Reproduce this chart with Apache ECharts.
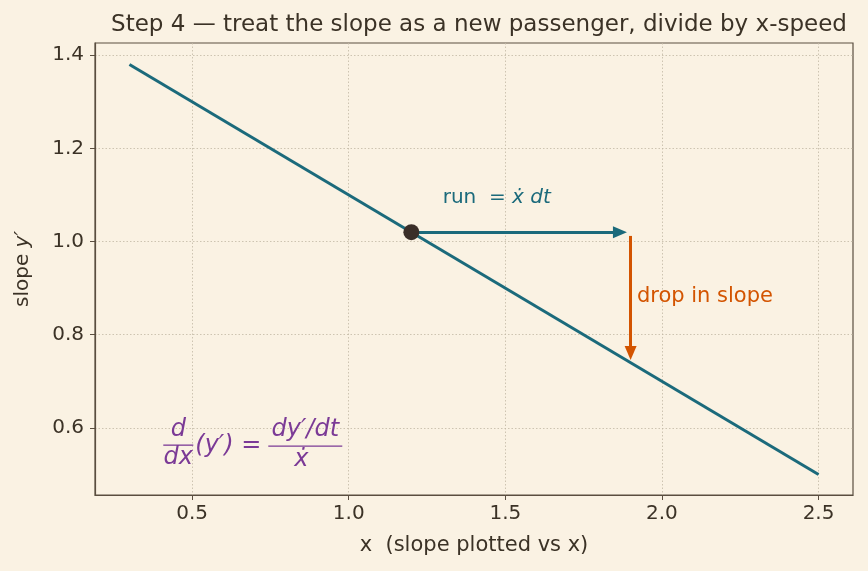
<!DOCTYPE html>
<html>
<head>
<meta charset="utf-8">
<script src="https://cdn.jsdelivr.net/npm/echarts@6/dist/echarts.min.js"></script>
<style>
  html, body { margin: 0; padding: 0; background: #faf2e3; }
  #chart { width: 868px; height: 571px; }
</style>
</head>
<body>
<div id="chart"></div>
<script>
// straight line of the slope y' against x
const lineX = [0.3, 2.5]
const lineY = [1.38, 0.5]
const pointXY = [1.2, 1.02]
const runArrow = [[1.2, 1.02], [1.866, 1.02]]
const dropArrow = [[1.9, 1.012], [1.9, 0.761]]
const xTicks = [0.5, 1.0, 1.5, 2.0, 2.5]
const yTicks = [0.6, 0.8, 1.0, 1.2, 1.4]
const runLabelAt = [1.3, 1.094]
const dropLabelAt = [1.92, 0.882]
const formulaAt = [0.408, 0.563]

const ink = '#3b3226'
const teal = '#1b6a7b'
const orange = '#d35400'
const purple = '#7b3a96'
const font = 'DejaVu Sans'

const chart = echarts.init(document.getElementById('chart'))

const axisCommon = {
  axisLine: { show: true, lineStyle: { color: '#5a4e40', width: 1.2 } },
  axisTick: { show: true, length: 5, lineStyle: { color: '#5a4e40' } },
  splitLine: { show: true, lineStyle: { color: '#c2b8a5', type: [1.5, 2], width: 0.8 } },
}

const noBorder = { textBorderWidth: 0, textShadowBlur: 0, opacity: 1 }

chart.setOption({
  backgroundColor: '#faf2e3',
  animation: false,
  title: {
    text: 'Step 4 \u2014 treat the slope as a new passenger, divide by x-speed',
    left: 474,
    textAlign: 'center',
    top: 9,
    textStyle: { color: ink, fontFamily: font, fontWeight: 'normal', fontSize: 23 },
  },
  grid: {
    left: 95, right: 15, top: 43, bottom: 76,
    show: true, borderColor: '#5a4e40', borderWidth: 1.2, backgroundColor: 'transparent',
  },
  xAxis: {
    type: 'value',
    min: 0.19,
    max: 2.61,
    name: 'x  (slope plotted vs x)',
    nameLocation: 'middle',
    nameGap: 40,
    nameTextStyle: { color: ink, fontFamily: font, fontSize: 21 },
    ...axisCommon,
    axisTick: { ...axisCommon.axisTick, customValues: xTicks },
    axisLabel: {
      customValues: xTicks, color: ink, fontFamily: font, fontSize: 20, margin: 9,
      formatter: (v) => v.toFixed(1),
    },
  },
  yAxis: {
    type: 'value',
    min: 0.456,
    max: 1.426,
    name: '{n|slope }{i|y\u2032}',
    nameLocation: 'middle',
    nameGap: 62,
    nameTextStyle: {
      color: ink, fontFamily: font, fontSize: 20,
      rich: {
        n: { color: ink, fontFamily: font, fontSize: 20 },
        i: { color: ink, fontFamily: font, fontSize: 20, fontStyle: 'italic' },
      },
    },
    ...axisCommon,
    axisTick: { ...axisCommon.axisTick, customValues: yTicks },
    axisLabel: {
      customValues: yTicks, color: ink, fontFamily: font, fontSize: 20, margin: 11,
      formatter: (v) => v.toFixed(1),
    },
  },
  series: [
    {
      type: 'line',
      data: lineX.map((x, i) => [x, lineY[i]]),
      symbol: 'none',
      lineStyle: { color: teal, width: 3 },
      z: 3,
    },
    {
      type: 'line',
      data: [],
      markLine: {
        silent: true,
        symbol: ['none', 'triangle'],
        symbolSize: [12, 14],
        label: { show: false },
        data: [
          [{ coord: runArrow[0], lineStyle: { color: teal, width: 3, type: 'solid' }, itemStyle: { color: teal } }, { coord: runArrow[1] }],
          [{ coord: dropArrow[0], lineStyle: { color: orange, width: 3, type: 'solid' }, itemStyle: { color: orange } }, { coord: dropArrow[1] }],
        ],
      },
      z: 4,
    },
    {
      type: 'scatter',
      data: [pointXY],
      symbolSize: 16,
      itemStyle: { color: '#3a2e28', opacity: 1 },
      z: 6,
    },
    {
      type: 'scatter',
      data: [runLabelAt],
      symbolSize: 0,
      silent: true,
      itemStyle: { opacity: 1, color: teal },
      label: {
        show: true, position: [0, 0], align: 'left', verticalAlign: 'middle', ...noBorder,
        formatter: '{a|run  = }{c|x\u0307 dt}',
        rich: {
          a: { color: teal, fontFamily: font, fontSize: 20, ...noBorder },
          c: { color: teal, fontFamily: font, fontSize: 20, fontStyle: 'italic', ...noBorder },
        },
      },
    },
    {
      type: 'scatter',
      data: [dropLabelAt],
      symbolSize: 0,
      silent: true,
      itemStyle: { opacity: 1, color: orange },
      label: {
        show: true, position: [0, 0], align: 'left', verticalAlign: 'middle', ...noBorder,
        formatter: 'drop in slope', color: orange, fontFamily: font, fontSize: 21,
      },
    },
  ],
})

// formula annotation, laid out around a data anchor
const [ax, ay] = chart.convertToPixel({ gridIndex: 0 }, formulaAt)
const fs = { fill: purple, fontFamily: font, fontSize: 24, fontStyle: 'italic' }
chart.setOption({
  graphic: [{
    type: 'group',
    x: ax, y: ay,
    children: [
      { type: 'text', x: 15, y: -3, style: { ...fs, text: 'd', align: 'center', verticalAlign: 'bottom' } },
      { type: 'line', shape: { x1: 0, y1: 0, x2: 30, y2: 0 }, style: { stroke: purple, lineWidth: 1.3 } },
      { type: 'text', x: 15, y: 1, style: { ...fs, text: 'dx', align: 'center', verticalAlign: 'top' } },
      { type: 'text', x: 32, y: 1, style: { ...fs, text: '(y\u2032) =', align: 'left', verticalAlign: 'middle' } },
      { type: 'text', x: 142, y: -3, style: { ...fs, text: 'dy\u2032/dt', align: 'center', verticalAlign: 'bottom' } },
      { type: 'line', shape: { x1: 105, y1: 1, x2: 179, y2: 1 }, style: { stroke: purple, lineWidth: 1.3 } },
      { type: 'text', x: 138, y: 3, style: { ...fs, text: 'x\u0307', align: 'center', verticalAlign: 'top' } },
    ],
  }],
})
</script>
</body>
</html>
